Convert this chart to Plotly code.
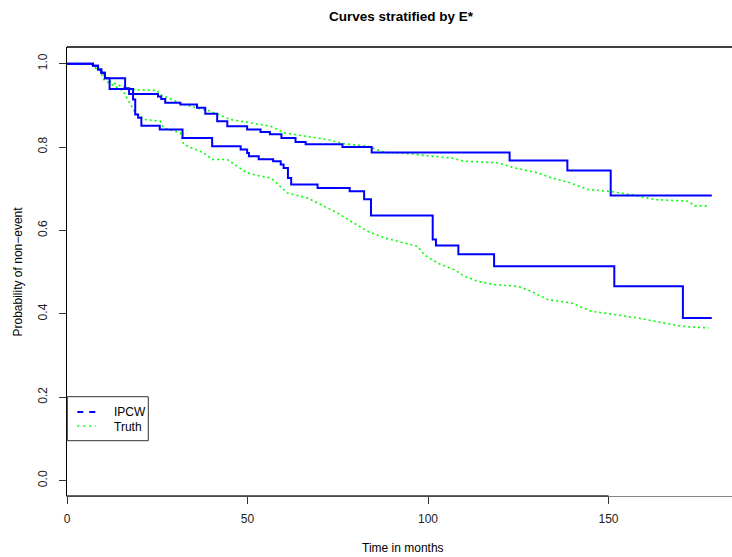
import plotly.graph_objects as go

# ---- data ----
ipcw_upper_t = [0, 7.2, 8.6, 9.5, 10.5, 16.1, 17.2, 25.2, 26.1, 27.2, 31.4, 36.0, 38.3, 41.6,
                44.4, 49.9, 53.6, 56.2, 59.4, 63.3, 66.1, 76.3, 84.4, 122.6, 138.6, 150.6, 178.6]
ipcw_upper_s = [1.0, 0.995, 0.986, 0.978, 0.965, 0.941, 0.927, 0.921, 0.915, 0.906, 0.902, 0.894, 0.880, 0.862,
                0.850, 0.842, 0.836, 0.831, 0.822, 0.812, 0.807, 0.800, 0.787, 0.768, 0.744, 0.684, 0.684]

ipcw_lower_t = [0, 7.2, 8.6, 9.5, 10.5, 11.8, 18.3, 18.9, 19.7, 20.6, 25.7, 32.0, 40.2, 48.1,
                49.9, 50.4, 53.1, 57.1, 59.2, 60.0, 61.2, 62.1, 69.4, 78.3, 82.3, 84.2, 101.3,
                102.2, 108.4, 118.3, 151.6, 170.6, 178.6]
ipcw_lower_s = [1.0, 0.995, 0.986, 0.978, 0.965, 0.939, 0.914, 0.878, 0.870, 0.851, 0.842, 0.822, 0.802, 0.794,
                0.786, 0.778, 0.771, 0.766, 0.758, 0.750, 0.726, 0.710, 0.702, 0.694, 0.675, 0.636, 0.578,
                0.564, 0.543, 0.514, 0.466, 0.390, 0.390]

truth_upper_t = [0, 6.8, 7.3, 9.2, 11.9, 13.8, 17.5, 24.9, 25.8, 32.3, 39.7, 45.3, 53.6, 56.4,
                 60.1, 65.6, 72.1, 76.8, 83.3, 87.9, 92.5, 99.9, 106.4, 110.1, 119.4, 124.0,
                 130.5, 134.2, 138.8, 144.4, 149.9, 156.4, 162.9, 172.1, 173.9, 177.7]
truth_upper_s = [1.0, 1.0, 0.992, 0.984, 0.958, 0.950, 0.938, 0.936, 0.926, 0.902, 0.886, 0.866, 0.854, 0.850,
                 0.834, 0.826, 0.818, 0.808, 0.802, 0.787, 0.786, 0.779, 0.774, 0.766, 0.762, 0.750,
                 0.738, 0.726, 0.716, 0.698, 0.694, 0.686, 0.674, 0.670, 0.659, 0.659]

truth_lower_t = [0, 6.8, 7.3, 9.2, 10.1, 15.6, 16.6, 18.9, 21.7, 25.8, 26.8, 31.4, 32.3, 37.9,
                 40.2, 44.4, 49.9, 53.6, 56.4, 57.5, 61.0, 66.6, 70.3, 74.9, 78.6, 83.3, 87.9,
                 91.6, 97.1, 98.9, 102.6, 107.2, 110.1, 113.8, 118.4, 124.9, 128.6, 133.2,
                 139.7, 145.3, 151.8, 158.2, 164.7, 170.3, 177.7]
truth_lower_s = [1.0, 1.0, 0.992, 0.984, 0.962, 0.934, 0.918, 0.882, 0.866, 0.862, 0.846, 0.834, 0.806, 0.786,
                 0.770, 0.770, 0.738, 0.730, 0.726, 0.718, 0.690, 0.678, 0.662, 0.642, 0.622, 0.598, 0.582,
                 0.574, 0.562, 0.542, 0.522, 0.506, 0.490, 0.478, 0.470, 0.466, 0.454, 0.434,
                 0.426, 0.406, 0.398, 0.390, 0.379, 0.370, 0.366]

x_ticks = [0, 50, 100, 150]
y_ticks = [0.0, 0.2, 0.4, 0.6, 0.8, 1.0]
y_tick_labels = ["0.0", "0.2", "0.4", "0.6", "0.8", "1.0"]
legend_labels = ["IPCW", "Truth"]

BLUE = "#0000FF"
GREEN = "#00FF00"
FONT = "Liberation Sans, Arial, sans-serif"

fig = go.Figure()
for t, s in [(truth_upper_t, truth_upper_s), (truth_lower_t, truth_lower_s)]:
    fig.add_trace(go.Scatter(x=t, y=s, mode="lines",
                             line=dict(color=GREEN, width=1.6, dash="2px,3px"),
                             showlegend=False, hoverinfo="skip"))
for t, s in [(ipcw_upper_t, ipcw_upper_s), (ipcw_lower_t, ipcw_lower_s)]:
    fig.add_trace(go.Scatter(x=t, y=s, mode="lines", line_shape="hv",
                             line=dict(color=BLUE, width=2),
                             showlegend=False, hoverinfo="skip"))

W, H = 732, 557
L, R, T, B = 67, 0, 47, 61
pw, ph = W - L - R, H - T - B

def px(xp):
    return (xp - L) / pw

def py(yp):
    return (H - B - yp) / ph

fig.update_layout(
    width=W, height=H,
    margin=dict(l=L, r=R, t=T, b=B, pad=0),
    paper_bgcolor="white", plot_bgcolor="white",
    font=dict(family=FONT, size=12, color="black"),
    showlegend=False,
    xaxis=dict(range=[0, 184.2], tickvals=x_ticks, ticktext=[str(v) for v in x_ticks],
               showgrid=False, zeroline=False, showline=True, linecolor="#888888", linewidth=1,
               mirror=False, ticks="outside", ticklen=7, tickcolor="#333333", tickwidth=1,
               ticklabelstandoff=5, tickfont=dict(size=12, family=FONT, color="#222222")),
    yaxis=dict(range=[-0.037, 1.04], tickvals=y_ticks, ticktext=y_tick_labels,
               showgrid=False, zeroline=False, showline=True, linecolor="black", linewidth=1,
               ticks="outside", ticklen=7, tickcolor="#333333", tickwidth=1, tickangle=-90,
               ticklabelstandoff=7, tickfont=dict(size=12, family=FONT, color="#222222")),
)

shapes = []
# top frame line
shapes.append(dict(type="line", xref="paper", yref="paper", x0=0, x1=1, y0=1, y1=1,
                   line=dict(color="black", width=1.3)))
# darker axis line between first and last x tick
shapes.append(dict(type="line", xref="x", yref="paper", x0=x_ticks[0], x1=x_ticks[-1], y0=0, y1=0,
                   line=dict(color="#333333", width=1.3)))
# legend box
shapes.append(dict(type="rect", xref="paper", yref="paper", x0=px(67.3), x1=px(148.3),
                   y0=py(440.7), y1=py(396.7), line=dict(color="#333333", width=1),
                   fillcolor="white", layer="above"))
shapes.append(dict(type="line", xref="paper", yref="paper", x0=px(77.3), x1=px(95.5),
                   y0=py(412), y1=py(412), line=dict(color=BLUE, width=2, dash="6px,6px"),
                   layer="above"))
shapes.append(dict(type="line", xref="paper", yref="paper", x0=px(77.3), x1=px(96),
                   y0=py(426), y1=py(426), line=dict(color=GREEN, width=1.6, dash="2px,4px"),
                   layer="above"))
fig.update_layout(shapes=shapes)

ann = [
    dict(text="<b>Curves stratified by E*</b>", x=px(401), y=py(16.7), xref="paper", yref="paper",
         xanchor="center", yanchor="middle", showarrow=False, font=dict(size=13.5, family=FONT)),
    dict(text="Time in months", x=px(403), y=py(548), xref="paper", yref="paper",
         xanchor="center", yanchor="middle", showarrow=False, font=dict(size=12, family=FONT)),
    dict(text="Probability of non\u2212event", x=px(17), y=py(271.5), xref="paper", yref="paper",
         xanchor="center", yanchor="middle", showarrow=False, textangle=-90,
         font=dict(size=12, family=FONT)),
    dict(text=legend_labels[0], x=px(111.5), y=py(412), xref="paper", yref="paper",
         xanchor="left", yanchor="middle", showarrow=False, font=dict(size=12, family=FONT)),
    dict(text=legend_labels[1], x=px(111.5), y=py(426.5), xref="paper", yref="paper",
         xanchor="left", yanchor="middle", showarrow=False, font=dict(size=12, family=FONT)),
]
fig.update_layout(annotations=ann)

fig.write_html("out.html")
